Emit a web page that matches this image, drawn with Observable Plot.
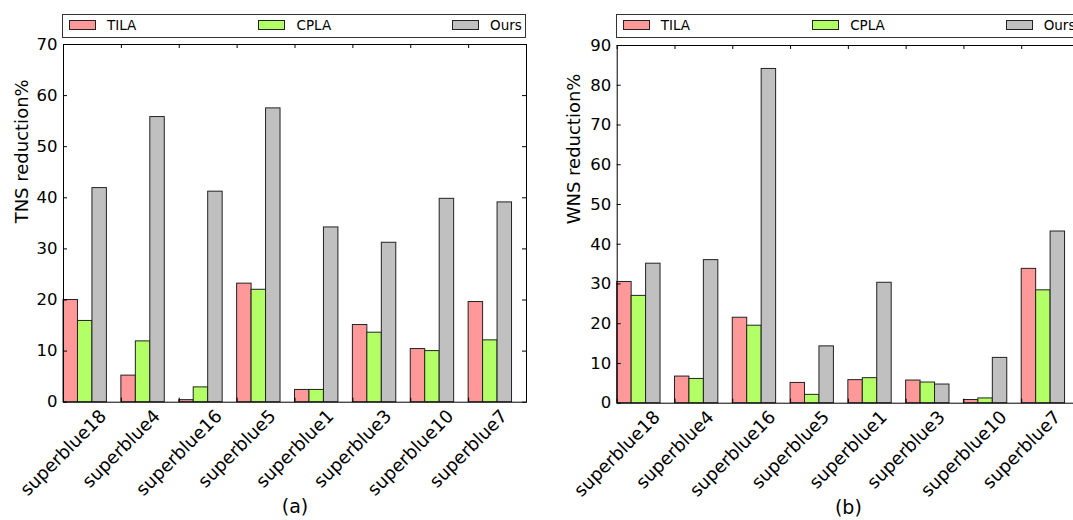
<!DOCTYPE html>
<html>
<head>
<meta charset="utf-8">
<script src="https://cdn.jsdelivr.net/npm/d3@7"></script>
<script src="https://cdn.jsdelivr.net/npm/@observablehq/plot@0.6"></script>
<style>
  html, body { margin: 0; padding: 0; background: white; }
  #root { position: relative; width: 1073px; height: 520px; overflow: hidden; background: white; font-family: "DejaVu Sans", sans-serif; }
  .panel { position: absolute; top: 0; }
  .panel svg { max-width: none !important; display: block; }
  .legend { position: absolute; box-sizing: border-box; border: 1px solid #333; background: white; }
  .legend .patch { position: absolute; box-sizing: border-box; border: 1px solid #222; }
  .legend .lab { position: absolute; font-size: 13.5px; line-height: 1; color: #000; white-space: nowrap; }
</style>
</head>
<body>
<div id="root"></div>
<script>
// ---- data ----
const categories = ["superblue18", "superblue4", "superblue16", "superblue5", "superblue1", "superblue3", "superblue10", "superblue7"];
const seriesNames = ["TILA", "CPLA", "Ours"];
const seriesColors = ["#ff9999", "#b3ff66", "#c0c0c0"];

const tnsTILA = [20.0, 5.2, 0.4, 23.2, 2.4, 15.1, 10.4, 19.6];
const tnsCPLA = [15.9, 11.9, 2.9, 22.0, 2.4, 13.6, 10.0, 12.1];
const tnsOurs = [41.9, 55.8, 41.2, 57.5, 34.2, 31.2, 39.8, 39.1];

const wnsTILA = [30.5, 6.7, 21.5, 5.1, 5.8, 5.7, 0.8, 33.8];
const wnsCPLA = [27.0, 6.1, 19.5, 2.1, 6.3, 5.2, 1.2, 28.4];
const wnsOurs = [35.1, 36.0, 84.1, 14.3, 30.3, 4.7, 11.4, 43.2];

const tnsTicks = [0, 10, 20, 30, 40, 50, 60, 70];
const wnsTicks = [0, 10, 20, 30, 40, 50, 60, 70, 80, 90];
const groupTicks = [0, 1, 2, 3, 4, 5, 6, 7, 8];

// ---- helpers ----
const ctx = document.createElement("canvas").getContext("2d");
const labelFont = 18;
ctx.font = `${labelFont}px "DejaVu Sans"`;

function buildRows(seriesArrays) {
  const rows = [];
  seriesArrays.forEach((arr, k) => {
    arr.forEach((v, i) => rows.push({cat: categories[i], series: seriesNames[k], value: v, i, k}));
  });
  return rows;
}

function makePanel(cfg) {
  const rows = buildRows(cfg.series);
  const W = cfg.width - cfg.mLeft - cfg.mRight;
  const H = cfg.height - cfg.mTop - cfg.mBottom;
  const barW = 0.25;
  const Ht = labelFont * 1.164;

  const labelMarks = categories.map((c, i) => {
    const L = ctx.measureText(c).width;
    const dx = 0.7071 * (L - Ht) / 2 + 2.5;
    return Plot.text([c], {
      x: () => i, frameAnchor: "bottom", rotate: -45,
      textAnchor: "end", lineAnchor: "top",
      dx, dy: 6, fontSize: labelFont, fill: "black"
    });
  });

  const plot = Plot.plot({
    width: cfg.width,
    height: cfg.height,
    marginLeft: cfg.mLeft,
    marginRight: cfg.mRight,
    marginTop: cfg.mTop,
    marginBottom: cfg.mBottom,
    style: {fontFamily: '"DejaVu Sans", sans-serif', fontSize: "16px", background: "transparent", overflow: "visible", color: "black", maxWidth: "none"},
    x: {domain: [0, 8], axis: null},
    y: {domain: [0, cfg.yMax], axis: null},
    color: {domain: seriesNames, range: seriesColors},
    marks: [
      Plot.rectY(rows, {
        x1: d => d.i + d.k * barW,
        x2: d => d.i + (d.k + 1) * barW,
        y1: 0, y2: "value",
        fill: "series", stroke: "#222", strokeWidth: 1
      }),
      // inward ticks, all four sides
      Plot.tickY(cfg.yTicks, {y: d => d, insetRight: W - 4, stroke: "black"}),
      Plot.tickY(cfg.yTicks, {y: d => d, insetLeft: W - 4, stroke: "black"}),
      Plot.tickX(groupTicks, {x: d => d, insetBottom: H - 4, stroke: "black"}),
      Plot.tickX(groupTicks, {x: d => d, insetTop: H - 4, stroke: "black"}),
      Plot.frame({stroke: "black", strokeWidth: 1}),
      Plot.axisY(cfg.yTicks, {tickSize: 0, tickPadding: 6, label: null, fontSize: 16.5}),
      ...labelMarks,
      Plot.text([cfg.yLabel], {frameAnchor: "left", rotate: -90, dx: cfg.yLabelDx, fontSize: 18, fill: "black"}),
      Plot.text([cfg.caption], {frameAnchor: "bottom", dy: 111, fontSize: 19, fill: "black"})
    ]
  });

  const wrap = document.createElement("div");
  wrap.className = "panel";
  wrap.style.left = cfg.left + "px";
  wrap.style.width = cfg.width + "px";
  wrap.style.height = cfg.height + "px";
  wrap.appendChild(plot);
  document.getElementById("root").appendChild(wrap);

  // legend (above the plot)
  const lg = document.createElement("div");
  lg.className = "legend";
  const boxLeft = cfg.left + cfg.mLeft - 1;
  lg.style.left = boxLeft + "px";
  lg.style.top = "13.5px";
  lg.style.width = (W + 1) + "px";
  lg.style.height = "24px";
  const patchX = [6, 195, 389];
  const textX = [44, 233.5, 427];
  seriesNames.forEach((s, k) => {
    const p = document.createElement("div");
    p.className = "patch";
    p.style.left = patchX[k] + "px";
    p.style.top = "5.5px";
    p.style.width = "27px";
    p.style.height = "10px";
    p.style.background = seriesColors[k];
    lg.appendChild(p);
    const t = document.createElement("div");
    t.className = "lab";
    t.style.left = textX[k] + "px";
    t.style.top = "4px";
    t.textContent = s;
    lg.appendChild(t);
  });
  document.getElementById("root").appendChild(lg);
}

makePanel({
  series: [tnsTILA, tnsCPLA, tnsOurs],
  yMax: 70, yTicks: tnsTicks, yLabel: "TNS reduction%", caption: "(a)",
  left: 0, width: 540, height: 520,
  mLeft: 63, mRight: 14, mTop: 44, mBottom: 118.3, yLabelDx: -41
});
makePanel({
  series: [wnsTILA, wnsCPLA, wnsOurs],
  yMax: 90, yTicks: wnsTicks, yLabel: "WNS reduction%", caption: "(b)",
  left: 540, width: 560, height: 520,
  mLeft: 76.7, mRight: 21, mTop: 45, mBottom: 117.3, yLabelDx: -43
});
</script>
</body>
</html>
